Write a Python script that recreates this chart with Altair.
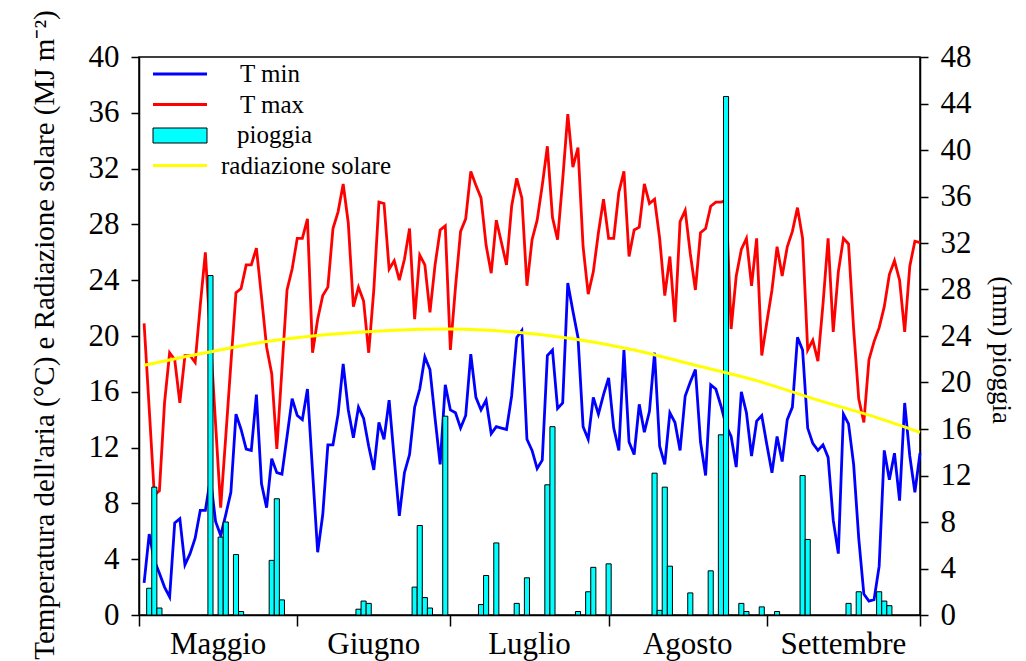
import altair as alt
import pandas as pd

# Daily series, 1 May (day 1) to 30 September (day 153)
t_max = [
    20.9, 14.8, 8.6, 8.9, 15.2, 18.8, 18.3, 15.2, 18.6, 18.6,
    18.1, 22.2, 26.0, 19.8, 13.7, 7.7, 12.8, 18.0, 23.1, 23.4,
    25.1, 25.1, 26.3, 22.8, 19.2, 17.3, 11.9, 17.6, 23.3, 24.8,
    27.0, 27.0, 28.4, 18.8, 21.2, 22.9, 23.5, 27.7, 28.9, 30.9,
    28.1, 22.1, 23.5, 22.5, 18.8, 23.3, 29.6, 29.5, 24.8, 25.4,
    24.0, 25.5, 27.7, 21.2, 25.8, 25.1, 21.7, 25.1, 27.6, 27.9,
    19.0, 23.5, 27.5, 28.4, 31.8, 30.8, 29.9, 26.5, 24.5, 28.3,
    26.7, 25.1, 29.3, 31.3, 29.9, 23.6, 26.9, 28.3, 30.8, 33.6,
    28.5, 26.9, 31.2, 35.9, 32.1, 33.5, 26.4, 23.0, 24.6, 27.4,
    29.8, 27.0, 27.0, 30.3, 31.8, 25.7, 27.6, 27.8, 30.9, 29.5,
    29.8, 27.0, 22.9, 25.7, 21.0, 28.2, 29.0, 25.9, 23.3, 27.4,
    27.7, 29.3, 29.6, 29.6, 29.7, 20.5, 24.3, 26.2, 27.0, 23.6,
    27.0, 18.6, 21.0, 23.3, 26.4, 24.3, 26.4, 27.5, 29.2, 27.0,
    19.0, 19.7, 18.2, 22.3, 27.0, 20.3, 24.6, 27.0, 26.6, 20.5,
    15.5, 13.8, 18.3, 19.6, 20.6, 22.1, 24.4, 25.4, 24.0, 20.3,
    25.0, 26.8, 26.7,
]
t_min = [
    2.3, 5.8, 3.9, 3.0, 2.0, 1.3, 6.6, 6.9, 3.6, 4.4,
    5.5, 7.5, 7.5, 9.8, 6.7, 5.7, 7.2, 8.8, 14.4, 13.3,
    11.9, 11.8, 15.8, 9.4, 7.7, 11.2, 10.2, 10.1, 12.8, 15.5,
    14.3, 14.0, 16.2, 10.3, 4.5, 7.2, 12.2, 12.2, 14.4, 18.0,
    14.7, 12.7, 14.9, 14.1, 12.1, 10.4, 13.8, 12.6, 15.4, 11.2,
    7.1, 10.2, 11.5, 14.9, 16.2, 18.5, 17.6, 14.1, 10.8, 16.5,
    14.7, 14.5, 13.4, 14.3, 18.7, 15.6, 14.7, 15.4, 13.0, 13.5,
    13.4, 13.3, 15.7, 19.9, 20.4, 12.6, 11.8, 10.5, 11.1, 18.6,
    19.0, 14.8, 15.2, 23.8, 21.8, 19.9, 13.5, 12.6, 15.6, 14.4,
    15.8, 17.0, 13.4, 11.8, 19.0, 12.4, 11.5, 15.1, 13.1, 14.6,
    18.8, 12.1, 10.8, 14.5, 13.8, 11.8, 15.7, 16.7, 17.6, 12.4,
    10.0, 16.5, 16.2, 15.0, 13.6, 12.8, 10.6, 16.0, 14.5, 11.4,
    13.9, 14.3, 12.2, 10.2, 12.8, 11.0, 14.0, 14.9, 19.9, 19.0,
    13.4, 12.3, 11.8, 12.2, 11.3, 6.8, 4.4, 14.4, 13.7, 10.8,
    5.5, 1.5, 1.0, 1.1, 3.5, 11.8, 9.7, 11.6, 8.2, 15.2,
    11.4, 8.8, 11.6,
]
days = list(range(1, len(t_max) + 1))

# Rainy days only (mm)
rain_days = [2, 3, 4, 14, 16, 17, 19, 20, 26, 27, 28, 43, 44, 45, 54, 55, 56, 57,
             60, 67, 68, 70, 74, 76, 80, 81, 86, 88, 89, 92, 101, 102, 103, 104,
             108, 112, 114, 115, 118, 119, 122, 125, 130, 131, 139, 141, 145, 146, 147]
rain_mm = [2.3, 11.0, 0.6, 29.2, 6.7, 8.0, 5.2, 0.3, 4.7, 10.0, 1.3, 0.5, 1.2, 1.0,
           2.4, 7.7, 1.5, 0.6, 17.1, 0.9, 3.4, 6.2, 1.0, 3.2, 11.2, 16.2, 0.3, 2.0,
           4.1, 4.4, 12.2, 0.4, 11.0, 4.2, 1.9, 3.8, 15.5, 44.6, 1.0, 0.3, 0.7, 0.3,
           12.0, 6.5, 1.0, 2.0, 2.0, 1.2, 0.8]

# Solar radiation (MJ m-2), smooth seasonal curve
rad_days = [1, 13, 25, 37, 49, 61, 73, 85, 97, 109, 121, 133, 145, 153]
rad_mj = [17.9, 18.8, 19.6, 20.1, 20.4, 20.5, 20.3, 19.8, 19.0, 17.9, 16.8, 15.4, 14.1, 13.1]

month_names = ["Maggio", "Giugno", "Luglio", "Agosto", "Settembre"]
month_starts = [0, 31, 61, 92, 123, 153]

W, H = 781, 558
FONT = "Liberation Serif"

temp = pd.DataFrame({"day": days, "tmin": t_min, "tmax": t_max})
rain = pd.DataFrame({"day": rain_days, "mm": rain_mm})
rad = pd.DataFrame({"day": rad_days, "mj": rad_mj})
months = pd.DataFrame({
    "name": month_names,
    "mid": [(a + b) / 2 for a, b in zip(month_starts[:-1], month_starts[1:])],
})

x_scale = alt.Scale(domain=[0, 153], nice=False, zero=False)
x_axis = alt.Axis(values=month_starts, labels=False, title=None, grid=False,
                  tickSize=11, tickWidth=1.5, domainWidth=1.5,
                  tickColor="black", domainColor="black")


def X(field):
    return alt.X(field, type="quantitative", scale=x_scale, axis=x_axis)


t_scale = alt.Scale(domain=[0, 40], nice=False, zero=True)
r_scale = alt.Scale(domain=[0, 48], nice=False, zero=True)

axis_style = dict(title=None, grid=False, tickSize=8, tickWidth=1.5, domainWidth=1.5,
                  labelPadding=12, labelFont=FONT, labelFontSize=31, labelColor="black",
                  tickColor="black", domainColor="black")
left_axis = alt.Axis(orient="left", values=list(range(0, 41, 4)), **axis_style)
right_axis = alt.Axis(orient="right", values=list(range(0, 49, 4)), **axis_style)

tmin_line = alt.Chart(temp).mark_line(color="#0000FF", strokeWidth=2.8).encode(
    x=X("day"), y=alt.Y("tmin:Q", scale=t_scale, axis=left_axis))

tmax_line = alt.Chart(temp).mark_line(color="#FF0000", strokeWidth=2.8).encode(
    x=X("day"), y=alt.Y("tmax:Q", scale=t_scale, axis=None))

bars = alt.Chart(rain).transform_calculate(
    d0="datum.day - 0.5", d1="datum.day + 0.5"
).mark_bar(color="#00FFFF", stroke="black", strokeWidth=1).encode(
    x=X("d0"), x2=alt.X2("d1"),
    y=alt.Y("mm:Q", scale=r_scale, axis=right_axis), y2=alt.datum(0))

rad_line = alt.Chart(rad).mark_line(color="#FFFF00", strokeWidth=3, interpolate="monotone").encode(
    x=X("day"), y=alt.Y("mj:Q", scale=t_scale, axis=None))

month_text = alt.Chart(months).mark_text(font=FONT, fontSize=31, baseline="middle",
                                         align="center", color="black").encode(
    x=X("mid"), y=alt.value(H + 30), text="name:N")

left_title = alt.Chart(pd.DataFrame({"t": ["Temperatura dell'aria (°C) e Radiazione solare (MJ m\u207b\u00b2)"]})).mark_text(
    font=FONT, fontSize=29, angle=270, baseline="middle", align="center", color="black").encode(
    x=alt.value(-94), y=alt.value(278), text="t:N")

right_title = alt.Chart(pd.DataFrame({"t": ["(mm) pioggia"]})).mark_text(
    font=FONT, fontSize=27, angle=90, baseline="middle", align="center", color="black").encode(
    x=alt.value(862), y=alt.value(293), text="t:N")


# Legend drawn inside the plot, top-left
def legend_rule(color, y, width=2.8):
    return alt.Chart(pd.DataFrame({"k": [0]})).mark_rule(color=color, strokeWidth=width).encode(
        x=alt.value(14), x2=alt.value(68), y=alt.value(y))


def legend_text(label, x, y):
    return alt.Chart(pd.DataFrame({"t": [label]})).mark_text(
        font=FONT, fontSize=25, align="left", baseline="middle", color="black").encode(
        x=alt.value(x), y=alt.value(y), text="t:N")


legend_box = alt.Chart(pd.DataFrame({"k": [0]})).mark_rect(
    color="#00FFFF", stroke="black", strokeWidth=1).encode(
    x=alt.value(14), x2=alt.value(68), y=alt.value(71), y2=alt.value(86))

legend = [
    legend_rule("#0000FF", 17), legend_text("T min", 101, 17),
    legend_rule("#FF0000", 47.5), legend_text("T max", 101, 47.5),
    legend_box, legend_text("pioggia", 98, 78),
    legend_rule("#FFFF00", 108.5, 3), legend_text("radiazione solare", 82, 108.5),
]

chart = alt.layer(
    tmin_line, tmax_line, bars, rad_line, month_text, left_title, right_title, *legend
).resolve_scale(y="independent").properties(
    width=W, height=H,
    autosize=alt.AutoSizeParams(type="none"),
    padding={"left": 139, "top": 57, "right": 106, "bottom": 46},
    background="white",
).configure_view(stroke="black", strokeWidth=1.5)

chart.save("out.html", embed_options={"renderer": "svg", "actions": False})
